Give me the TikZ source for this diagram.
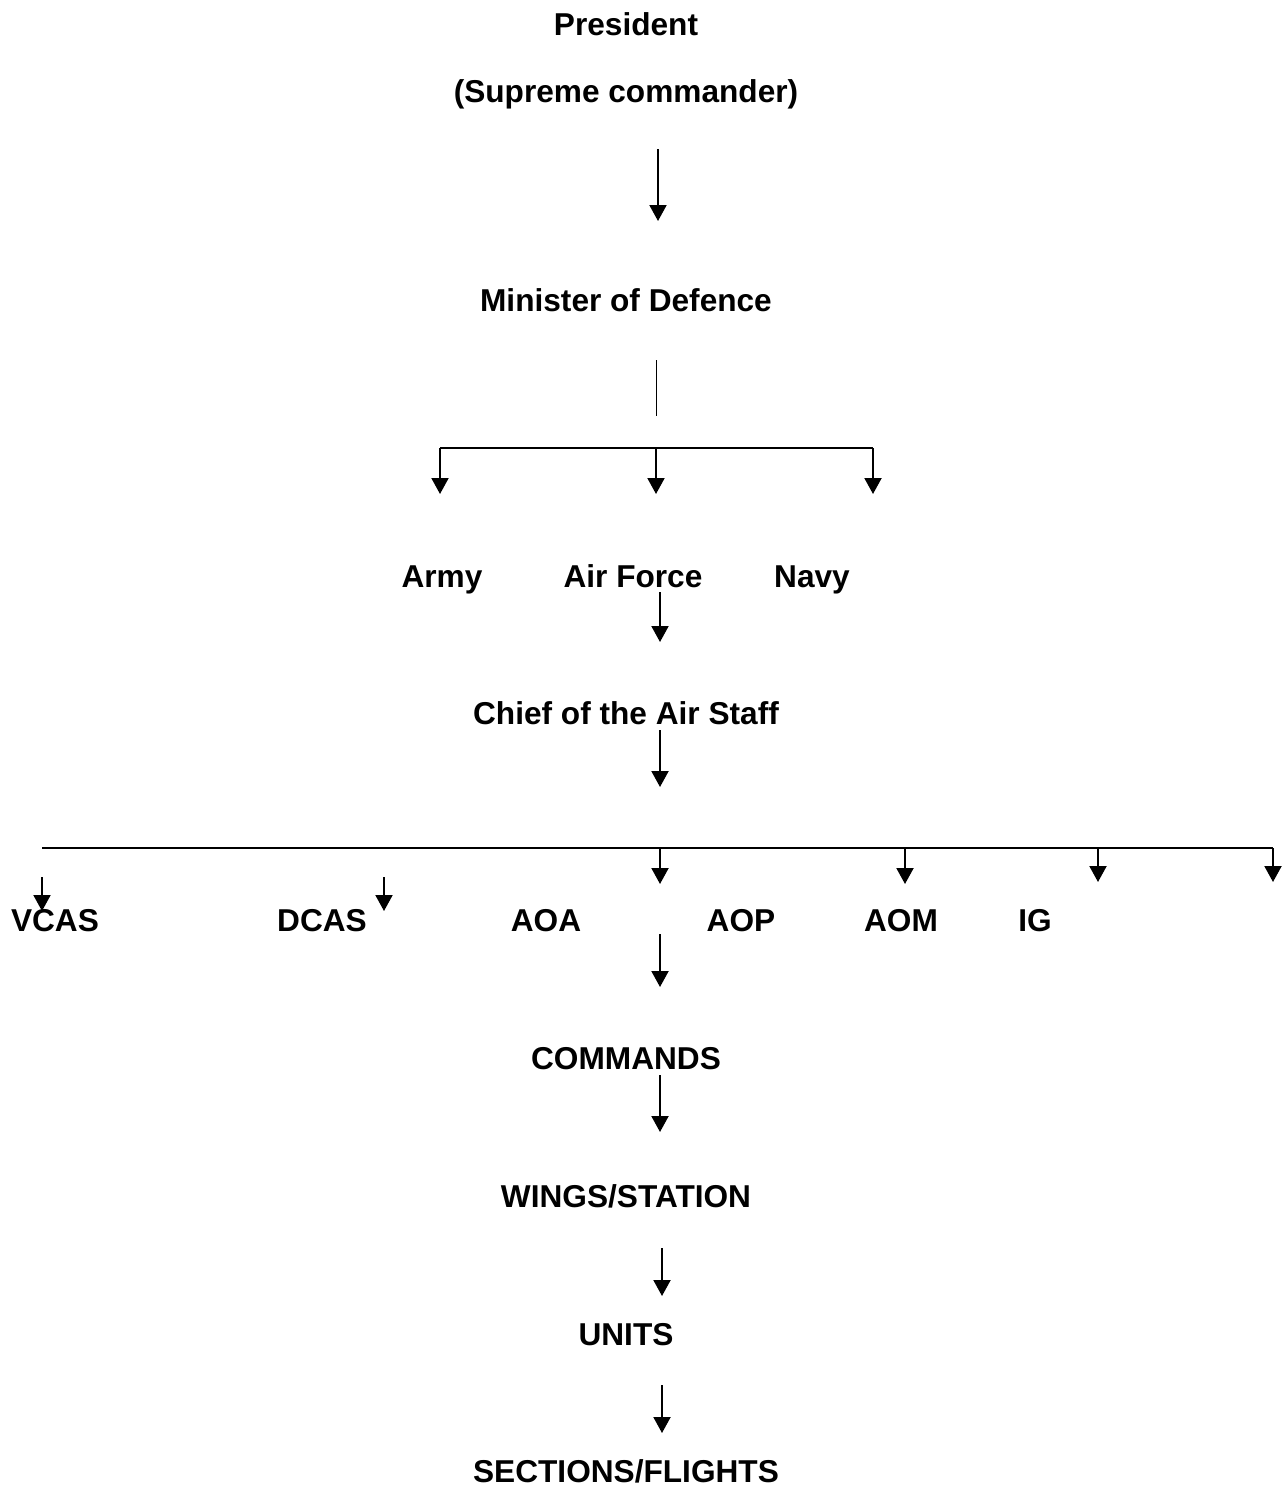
\documentclass[tikz,border=0pt]{standalone}
\usepackage{fontspec}
\setmainfont{Liberation Sans}
\usetikzlibrary{arrows.meta}

\tikzset{
  rank/.style={font=\bfseries\fontsize{18}{22}\selectfont, inner sep=0pt, anchor=base},
  arr/.style={line width=1.13pt, -{Triangle[width=0.34cm,length=0.32cm]}},
  bar/.style={line width=1.13pt}
}

\begin{document}
\begin{tikzpicture}[x=0.02cm, y=-0.02cm]
  \useasboundingbox (0,0) rectangle (1287,1489);

  % Nodes
  \node[rank] (pres) at (626,35) {President};
  \node[rank] (sup) at (626,102) {(Supreme commander)};
  \node[rank] (mod) at (626,311) {Minister of Defence};
  \node[rank] (army) at (442,587) {Army};
  \node[rank] (af) at (633,587) {Air Force};
  \node[rank] (navy) at (812,587) {Navy};
  \node[rank] (cas) at (626,724) {Chief of the Air Staff};
  \foreach \n/\x/\name in {vcas/55/VCAS, dcas/322/DCAS, aoa/546/AOA, aop/741/AOP, aom/901/AOM, ig/1035/IG}
    \node[rank] (\n) at (\x,931) {\name};
  \node[rank] (cmd) at (626,1069) {COMMANDS};
  \node[rank] (wing) at (626,1207) {WINGS/STATION};
  \node[rank] (unit) at (626,1345) {UNITS};
  \node[rank] (sect) at (626,1482) {SECTIONS/FLIGHTS};

  % Bracket under Minister of Defence
  \coordinate (modA) at (656,360);
  \coordinate (modB) at (656,416);
  \draw[line width=0.57pt] (modA) -- (modB);
  \coordinate (brL) at (440,448);
  \coordinate (brM) at (656,448);
  \coordinate (brR) at (873,448);
  \coordinate (brLe) at (440,494);
  \coordinate (brMe) at (656,494);
  \coordinate (brRe) at (873,494);
  \draw[arr] (brL) -- (brLe);
  \draw[bar] (brL) -- (brR);
  \draw[arr] (brR) -- (brRe);
  \draw[arr] (brM) -- (brMe);

  % Bracket under Chief of the Air Staff
  \coordinate (stL) at (42,848);
  \coordinate (stR) at (1273,848);
  \draw[bar] (stL) -- (stR);
  \foreach \n/\x/\yb in {d1/660/884, d2/905/884, d3/1098/882, d4/1273/882} {
    \coordinate (\n s) at (\x,848);
    \coordinate (\n e) at (\x,\yb);
    \draw[arr] (\n s) -- (\n e);
  }

  % Edges
  \foreach \n/\x/\ya/\yb in {a1/658/149/221, a2/660/592/642, a3/660/730/787,
      a4/42/877/911, a5/384/877/911, a6/660/934/987, a7/660/1075/1132,
      a8/662/1248/1296, a9/662/1385/1433} {
    \coordinate (\n s) at (\x,\ya);
    \coordinate (\n e) at (\x,\yb);
    \draw[arr] (\n s) -- (\n e);
  }
\end{tikzpicture}
\end{document}
